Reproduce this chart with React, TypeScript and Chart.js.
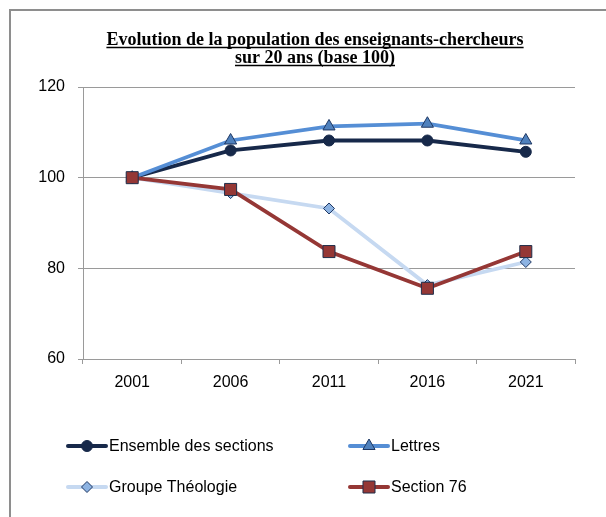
import React, { useEffect, useRef } from "react";
import { Chart, registerables } from "chart.js";
import { drawPoint } from "chart.js/helpers";

Chart.register(...registerables);

const CATEGORIES = ["2001", "2006", "2011", "2016", "2021"];
const ENSEMBLE = [100, 106.0, 108.2, 108.2, 105.7];
const LETTRES = [100, 108.2, 111.3, 111.9, 108.2];
const THEOLOGIE = [100, 96.6, 93.2, 76.3, 81.4];
const SECTION76 = [100, 97.4, 83.7, 75.6, 83.7];
const SERIES_NAMES = ["Ensemble des sections", "Lettres", "Groupe Théologie", "Section 76"];
const Y_MIN = 60;
const Y_MAX = 120;
const Y_STEP = 20;
const TITLE_LINES = ["Evolution de la population des enseignants-chercheurs", "sur 20 ans (base 100)"];

const SANS = "'Liberation Sans', Arial, sans-serif";

const decorPlugin = {
  id: "decor",
  beforeDraw(chart: any) {
    const ctx = chart.ctx;
    ctx.save();
    ctx.fillStyle = "#ffffff";
    ctx.fillRect(0, 0, chart.width, chart.height);
    ctx.strokeStyle = "#8e8e8e";
    ctx.lineWidth = 2;
    ctx.strokeRect(10, 10, chart.width + 20, chart.height + 20);
    ctx.restore();
  },
  afterDraw(chart: any) {
    const ctx = chart.ctx;
    ctx.save();
    // Title
    ctx.font = "bold 18px 'Liberation Serif', 'Times New Roman', serif";
    ctx.fillStyle = "#000000";
    ctx.textAlign = "center";
    ctx.textBaseline = "alphabetic";
    const cx = 315;
    const baselines = [45, 63];
    TITLE_LINES.forEach((line, i) => {
      ctx.fillText(line, cx, baselines[i]);
      const w = ctx.measureText(line).width;
      ctx.strokeStyle = "#000000";
      ctx.lineWidth = 1.3;
      ctx.beginPath();
      ctx.moveTo(cx - w / 2, baselines[i] + 2.5);
      ctx.lineTo(cx + w / 2, baselines[i] + 2.5);
      ctx.stroke();
    });

    // Legend
    const colX = [68, 350];
    const rowY = [446, 487];
    const lineLen = 38;
    ctx.font = "16px " + SANS;
    ctx.textAlign = "left";
    ctx.textBaseline = "middle";
    chart.data.datasets.forEach((ds: any, i: number) => {
      const x = colX[i % 2];
      const y = rowY[Math.floor(i / 2)];
      ctx.strokeStyle = ds.borderColor;
      ctx.lineWidth = 4;
      ctx.lineCap = "round";
      ctx.beginPath();
      ctx.moveTo(x, y);
      ctx.lineTo(x + lineLen, y);
      ctx.stroke();
      ctx.lineCap = "butt";
      ctx.fillStyle = ds.pointBackgroundColor;
      ctx.strokeStyle = ds.pointBorderColor;
      ctx.lineWidth = ds.pointBorderWidth;
      drawPoint(ctx, { pointStyle: ds.pointStyle, radius: ds.pointRadius, borderWidth: ds.pointBorderWidth, rotation: 0 }, x + lineLen / 2, y);
      ctx.fillStyle = "#000000";
      ctx.fillText(ds.label, x + lineLen + 3, y + 1);
    });
    ctx.restore();
  },
};

export default function App() {
  const canvasRef = useRef<HTMLCanvasElement | null>(null);

  useEffect(() => {
    const canvas = canvasRef.current;
    if (!canvas) return;
    const gridColor = "#9a9a9a";
    const chart = new Chart(canvas, {
      type: "line",
      data: {
        labels: CATEGORIES,
        datasets: [
          {
            label: SERIES_NAMES[0],
            data: ENSEMBLE,
            borderColor: "#17294a",
            backgroundColor: "#17294a",
            borderWidth: 3.8,
            pointStyle: "circle",
            pointRadius: 5.5,
            pointBackgroundColor: "#17294a",
            pointBorderColor: "#17294a",
            pointBorderWidth: 1,
            tension: 0,
            order: 2,
          },
          {
            label: SERIES_NAMES[1],
            data: LETTRES,
            borderColor: "#558ed5",
            backgroundColor: "#558ed5",
            borderWidth: 3.8,
            pointStyle: "triangle",
            pointRadius: 7,
            pointBackgroundColor: "#4f81bd",
            pointBorderColor: "#1f3864",
            pointBorderWidth: 1,
            tension: 0,
            order: 1,
          },
          {
            label: SERIES_NAMES[2],
            data: THEOLOGIE,
            borderColor: "#c6d9f1",
            backgroundColor: "#c6d9f1",
            borderWidth: 3.8,
            pointStyle: "rectRot",
            pointRadius: 5.5,
            pointBackgroundColor: "#8db3e2",
            pointBorderColor: "#1f3864",
            pointBorderWidth: 1,
            tension: 0,
            order: 3,
          },
          {
            label: SERIES_NAMES[3],
            data: SECTION76,
            borderColor: "#953735",
            backgroundColor: "#953735",
            borderWidth: 3.8,
            pointStyle: "rect",
            pointRadius: 8.5,
            pointBackgroundColor: "#953735",
            pointBorderColor: "#1f2e4a",
            pointBorderWidth: 1,
            tension: 0,
            order: 0,
          },
        ],
      },
      options: {
        responsive: false,
        animation: false,
        devicePixelRatio: 1,
        layout: { padding: { top: 87, right: 31, left: 0, bottom: 0 } },
        plugins: {
          legend: { display: false },
          title: { display: false },
          tooltip: { enabled: false },
        },
        scales: {
          x: {
            type: "category",
            offset: true,
            grid: {
              offset: true,
              drawOnChartArea: false,
              drawTicks: true,
              tickLength: 5,
              color: gridColor,
            },
            border: { display: true, color: gridColor, width: 1 },
            ticks: {
              color: "#000000",
              font: { family: SANS, size: 16 },
              padding: 9,
              maxRotation: 0,
            },
            afterFit(scale: any) {
              scale.height = 158;
            },
          },
          y: {
            min: Y_MIN,
            max: Y_MAX,
            ticks: {
              stepSize: Y_STEP,
              color: "#000000",
              font: { family: SANS, size: 16 },
              padding: 13,
            },
            grid: {
              color: gridColor,
              drawTicks: true,
              tickLength: 5,
            },
            border: { display: true, color: gridColor, width: 1 },
            afterFit(scale: any) {
              scale.width = 83;
            },
          },
        },
      },
      plugins: [decorPlugin],
    } as any);
    return () => chart.destroy();
  }, []);

  return (
    <div style={{ position: "fixed", left: 0, top: 0, width: 606, height: 517, background: "#fff" }}>
      <canvas ref={canvasRef} width={606} height={517} style={{ display: "block", width: 606, height: 517 }} />
    </div>
  );
}
